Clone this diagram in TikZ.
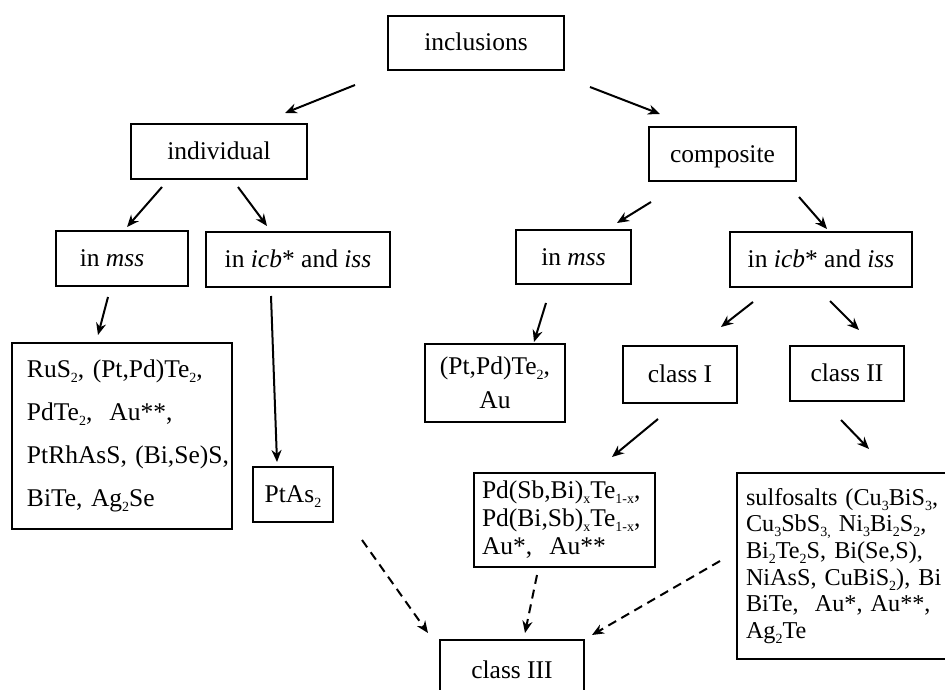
\documentclass[tikz,border=0pt]{standalone}
\usepackage{fontspec}
\setmainfont{Liberation Serif}
\usetikzlibrary{arrows.meta,calc}
\newcommand\sbs[1]{\raisebox{-0.2em}{\fontsize{14}{14}\selectfont #1}}
\begin{document}
\begin{tikzpicture}[x=1pt,y=-1pt,
  box/.style={draw, line width=2.2pt, inner sep=0pt, font=\fontsize{25.5}{30}\selectfont, text height=16pt, text depth=0pt},
  mbox/.style={draw, line width=2.2pt, align=left, inner ysep=0pt},
  arr/.style={line width=2pt, -{Stealth[length=12pt,width=10pt]}},
  darr/.style={arr, dash pattern=on 9pt off 6pt}]
\useasboundingbox (0,0) rectangle (945,690);
\clip (0,0) rectangle (945,690);
% boxes
\node[box, minimum width=176pt, minimum height=54pt] (inc) at (476,43) {inclusions};
\node[box, minimum width=176pt, minimum height=55pt] (ind) at (219,151.5) {individual};
\node[box, minimum width=147pt, minimum height=54pt] (comp) at (722.5,154) {composite};
\node[box, minimum width=132pt, minimum height=55pt] (mssL) at (122,258.5) {in \textit{mss}\hspace*{20pt}};
\node[box, minimum width=184pt, minimum height=55pt] (icbL) at (298,259.5) {in \textit{icb}* and \textit{iss}};
\node[box, minimum width=115pt, minimum height=54pt] (mssR) at (573.5,257) {in \textit{mss}};
\node[box, minimum width=182pt, minimum height=55pt] (icbR) at (821,259.5) {in \textit{icb}* and \textit{iss}};
\node[mbox, inner xsep=15pt, text width=190pt, minimum height=186pt, font=\fontsize{25.5}{43}\selectfont] (lbox) at (122,436)
  {\mbox{RuS\sbs{2}, (Pt,Pd)Te\sbs{2},}\\ \mbox{PdTe\sbs{2}, ~Au**,}\\ \mbox{PtRhAsS, (Bi,Se)S,}\\ \mbox{BiTe, Ag\sbs{2}Se}};
\node[mbox, align=center, inner sep=0pt, minimum width=140pt, minimum height=78pt, font=\fontsize{25.5}{34}\selectfont] (ptpd) at (495,383)
  {(Pt,Pd)Te\sbs{2},\\ Au};
\node[box, minimum width=114pt, minimum height=57pt] (c1) at (680,374.5) {class I};
\node[box, minimum width=114pt, minimum height=55pt] (c2) at (847,373.5) {class II};
\node[box, minimum width=80pt, minimum height=55pt] (ptas) at (293,494.5) {PtAs\sbs{2}};
\node[mbox, inner xsep=8pt, text width=165pt, minimum height=94pt, font=\fontsize{25.5}{28}\selectfont] (pd) at (564.5,520)
  {\mbox{Pd(Sb,Bi)\sbs{x}Te\sbs{1-x},}\\ \mbox{Pd(Bi,Sb)\sbs{x}Te\sbs{1-x},}\\ \mbox{Au*, ~Au**}};
\node[mbox, inner xsep=9pt, text width=205pt, minimum height=186pt, font=\fontsize{24.2}{26.7}\selectfont] (sulf) at (848.5,566)
  {\mbox{sulfosalts (Cu\sbs{3}BiS\sbs{3},}\\ \mbox{Cu\sbs{3}SbS\sbs{3,} Ni\sbs{3}Bi\sbs{2}S\sbs{2},}\\ \mbox{Bi\sbs{2}Te\sbs{2}S, Bi(Se,S),}\\ \mbox{NiAsS, CuBiS\sbs{2}), Bi}\\ \mbox{BiTe, ~Au*, Au**,}\\ \mbox{Ag\sbs{2}Te}};
\node[box, minimum width=144pt, minimum height=60pt] (c3) at (512,670) {class III};
% connectors
\draw[arr] ($(inc)+(-121,42)$) -- ($(ind)+(66,-38.5)$);
\draw[arr] ($(inc)+(114,44)$) -- ($(comp)+(-62.5,-40)$);
\draw[arr] ($(ind)+(-57,35.5)$) -- ($(mssL)+(5,-31.5)$);
\draw[arr] ($(ind)+(19,35.5)$) -- ($(icbL)+(-31,-33.5)$);
\draw[arr] ($(comp)+(-71.5,48)$) -- ($(mssR)+(43.5,-34)$);
\draw[arr] ($(comp)+(76.5,43)$) -- ($(icbR)+(6,-30.5)$);
\draw[arr] ($(mssL)+(-14,38.5)$) -- ($(lbox)+(-24,-101)$);
\draw[arr] ($(icbL)+(-27,36.5)$) -- ($(ptas)+(-16,-32.5)$);
\draw[arr] ($(mssR)+(-27.5,46)$) -- ($(ptpd)+(39,-41)$);
\draw[arr] ($(icbR)+(-68,42.5)$) -- ($(c1)+(41,-47.5)$);
\draw[arr] ($(icbR)+(9,41.5)$) -- ($(c2)+(12,-43.5)$);
\draw[arr] ($(c1)+(-22,44.5)$) -- ($(pd)+(47.5,-63)$);
\draw[arr] ($(c2)+(-6,46.5)$) -- ($(sulf)+(20.5,-117)$);
\draw[darr] ($(ptas)+(69,45.5)$) -- ($(c3)+(-84,-37)$);
\draw[darr] ($(pd)+(-27.5,55)$) -- ($(c3)+(13,-37)$);
\draw[darr] ($(sulf)+(-128.5,-5)$) -- ($(c3)+(80,-35)$);
\end{tikzpicture}
\end{document}
